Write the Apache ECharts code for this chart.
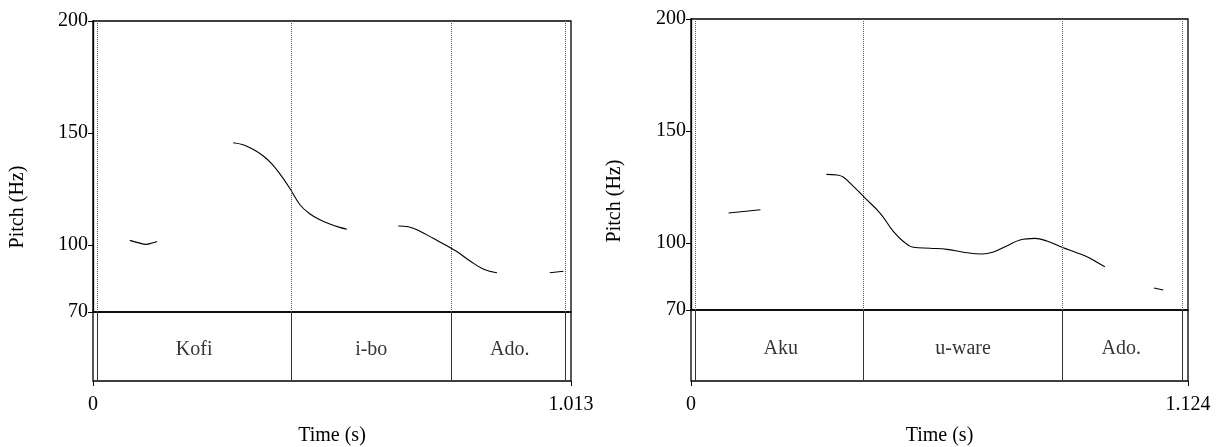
<!DOCTYPE html>
<html>
<head>
<meta charset="utf-8">
<script src="https://cdn.jsdelivr.net/npm/echarts@6/dist/echarts.min.js"></script>
<style>html,body{margin:0;padding:0;background:#fff}#c{width:1221px;height:447px}</style>
</head>
<body>
<div id="c"></div>
<script>
// ---- Data ----
const yTicks = [70, 100, 150, 200];

// Left panel: "Kofi i-bo Ado."
const leftDuration = 1.013;
const leftXTicks = [0, 1.013];
const leftXTickLabels = ['0', '1.013'];
const leftBounds = [0.0121, 0.4167, 0.7626, 1.0037];
const leftWords = ['Kofi', 'i-bo', 'Ado.'];
const leftSeg1 = [[0.078, 102.0], [0.095, 101.0], [0.113, 100.2], [0.125, 100.8], [0.136, 101.5]];
const leftSeg2 = [[0.297, 145.6], [0.318, 144.7], [0.340, 142.6], [0.361, 139.7], [0.379, 136.2], [0.396, 131.7], [0.417, 125.3], [0.439, 117.8], [0.460, 113.8], [0.481, 111.2], [0.502, 109.3], [0.523, 107.8], [0.538, 107.0]];
const leftSeg3 = [[0.647, 108.4], [0.668, 108.1], [0.693, 106.1], [0.721, 102.9], [0.750, 99.6], [0.771, 97.0], [0.799, 92.8], [0.828, 89.1], [0.856, 87.5]];
const leftSeg4 = [[0.968, 87.5], [0.997, 88.2]];

// Right panel: "Aku u-ware Ado."
const rightDuration = 1.124;
const rightXTicks = [0, 1.124];
const rightXTickLabels = ['0', '1.124'];
const rightBounds = [0.0136, 0.392, 0.8386, 1.1075];
const rightWords = ['Aku', 'u-ware', 'Ado.'];
const rightSeg1 = [[0.085, 113.3], [0.157, 114.8]];
const rightSeg2 = [[0.306, 130.6], [0.330, 130.3], [0.345, 129.3], [0.368, 125.1], [0.392, 120.3], [0.428, 113.2], [0.458, 105.0], [0.481, 100.5], [0.503, 98.0], [0.541, 97.6], [0.579, 97.1], [0.616, 95.8], [0.658, 95.0], [0.684, 95.9], [0.714, 98.6], [0.744, 101.3], [0.778, 102.0], [0.805, 100.8], [0.839, 98.0], [0.872, 95.6], [0.899, 93.5], [0.918, 91.3], [0.936, 89.3]];
const rightSeg3 = [[1.047, 79.8], [1.068, 78.9]];

// ---- Build ----
const FONT = '"Liberation Serif", "DejaVu Serif", serif';
const FS = 20;
const chart = echarts.init(document.getElementById('c'), null, {renderer: 'canvas'});

function panel(idx, geom, duration, xTicks, xTickLabels, bounds, words, segs) {
  const gP = idx * 2, gT = idx * 2 + 1;
  const grids = [
    {left: geom.left, top: geom.top, width: geom.width, height: geom.pitchH, show: true, borderColor: '#000', borderWidth: 1.3, backgroundColor: 'transparent'},
    {left: geom.left, top: geom.top + geom.pitchH, width: geom.width, height: geom.tierH, show: true, borderColor: '#000', borderWidth: 1.3, backgroundColor: 'transparent'}
  ];
  const xAxes = [
    {gridIndex: gP, type: 'value', min: 0, max: duration, show: false},
    {gridIndex: gT, type: 'value', min: 0, max: duration,
      axisLine: {show: false}, splitLine: {show: false},
      axisTick: {show: true, length: 5, customValues: xTicks, lineStyle: {color: '#000'}},
      axisLabel: {show: true, customValues: xTicks, margin: 14, color: '#000', fontFamily: FONT, fontSize: FS,
        formatter: v => { const i = xTicks.indexOf(v); return i >= 0 ? xTickLabels[i] : ''; }},
      name: 'Time (s)', nameLocation: 'middle', nameGap: 45,
      nameTextStyle: {color: '#000', fontFamily: FONT, fontSize: FS}}
  ];
  const yAxes = [
    {gridIndex: gP, type: 'value', min: 70, max: 200, interval: 10,
      axisLine: {show: true, lineStyle: {color: '#000', width: 1.3}}, splitLine: {show: false},
      axisTick: {show: true, length: 5, customValues: yTicks, lineStyle: {color: '#000'}},
      axisLabel: {show: true, customValues: yTicks, margin: 5, color: '#000', fontFamily: FONT, fontSize: FS}},
    {gridIndex: gT, type: 'value', min: 0, max: 1, show: false}
  ];
  const xi = idx * 2, yi = idx * 2;
  const series = [];
  segs.forEach((s, k) => {
    const ser = {type: 'line', xAxisIndex: xi, yAxisIndex: yi, data: s, showSymbol: false, symbol: 'none',
      smooth: 0.4, lineStyle: {color: '#000', width: 1.1}, silent: true, animation: false};
    if (k === 0) {
      ser.markLine = {silent: true, symbol: ['none', 'none'], label: {show: false}, animation: false,
        lineStyle: {type: 'dotted', color: '#555', width: 1},
        data: bounds.map(t => ({xAxis: t}))};
    }
    series.push(ser);
  });
  const mids = words.map((w, i) => [(bounds[i] + bounds[i + 1]) / 2, 0.46, w]);
  series.push({type: 'scatter', xAxisIndex: xi + 1, yAxisIndex: yi + 1, data: mids, symbolSize: 0, silent: true, animation: false,
    label: {show: true, position: 'inside', formatter: p => p.data[2], color: '#000', fontFamily: FONT, fontSize: FS},
    markLine: {silent: true, symbol: ['none', 'none'], label: {show: false}, animation: false,
      lineStyle: {type: 'solid', color: '#333', width: 1},
      data: bounds.map(t => ({xAxis: t}))}});
  return {grids, xAxes, yAxes, series};
}

const L = panel(0, {left: 93, top: 21, width: 478, pitchH: 291, tierH: 73}, leftDuration, leftXTicks, leftXTickLabels, leftBounds, leftWords, [leftSeg1, leftSeg2, leftSeg3, leftSeg4]);
const R = panel(1, {left: 691, top: 19, width: 497, pitchH: 291, tierH: 73}, rightDuration, rightXTicks, rightXTickLabels, rightBounds, rightWords, [rightSeg1, rightSeg2, rightSeg3]);

chart.setOption({
  animation: false,
  backgroundColor: '#fff',
  grid: [...L.grids, ...R.grids],
  xAxis: [...L.xAxes, ...R.xAxes],
  yAxis: [...L.yAxes, ...R.yAxes],
  series: [...L.series, ...R.series],
  graphic: [
    {type: 'text', x: 18, y: 207, rotation: Math.PI / 2, style: {text: 'Pitch (Hz)', fill: '#000', font: FS + 'px ' + FONT, align: 'center', verticalAlign: 'middle'}},
    {type: 'text', x: 615, y: 201, rotation: Math.PI / 2, style: {text: 'Pitch (Hz)', fill: '#000', font: FS + 'px ' + FONT, align: 'center', verticalAlign: 'middle'}}
  ]
});
</script>
</body>
</html>
